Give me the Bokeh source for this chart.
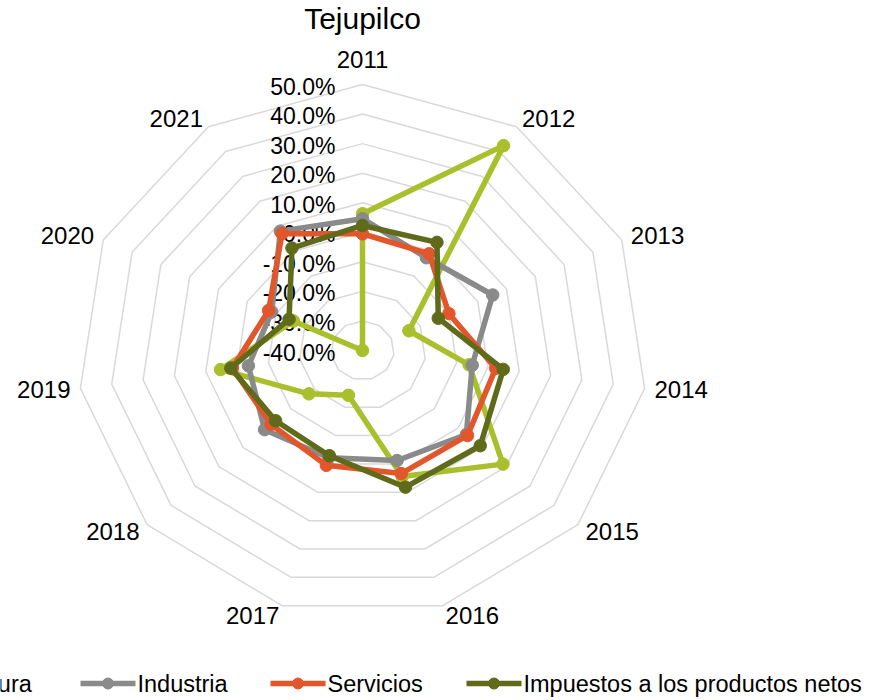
import numpy as np
from bokeh.plotting import figure
from bokeh.models import Range1d, ColumnDataSource
from bokeh.core.properties import value
from bokeh.embed import file_html
from bokeh.resources import INLINE

# ---------------- data ----------------
title = "Tejupilco"
years = ["2011", "2012", "2013", "2014", "2015", "2016", "2017", "2018", "2019", "2020", "2021"]
agricultura = [0.063, 0.424, -0.239, -0.060, 0.187, 0.044, -0.242, -0.176, 0.053, -0.160, -0.400]
industria = [0.046, -0.027, 0.052, -0.050, 0.034, -0.012, -0.022, 0.009, -0.036, -0.085, 0.080]
servicios = [-0.005, -0.011, -0.100, 0.025, 0.039, 0.034, 0.005, -0.018, 0.015, -0.074, 0.070]
impuestos = [0.023, 0.035, -0.137, 0.049, 0.092, 0.082, -0.029, -0.037, 0.020, -0.145, 0.012]
series_names = ["Agricultura", "Industria", "Servicios", "Impuestos a los productos netos"]
tick_values = [-0.4, -0.3, -0.2, -0.1, 0.0, 0.1, 0.2, 0.3, 0.4, 0.5]
tick_labels = ["-40.0%", "-30.0%", "-20.0%", "-10.0%", "0.0%", "10.0%", "20.0%", "30.0%", "40.0%", "50.0%"]

# ---------------- style / layout ----------------
colors = ["#A9BF2C", "#8A8A8A", "#E2562B", "#5F6B1B"]
FONT = "Liberation Sans"
W, H = 876, 698
CX, CY = 362.0, 350.0      # centre of the radar (page pixels)
RX, RY = 285.0, 266.0      # outer radius, horizontal / vertical
RMIN, RMAX = tick_values[0], tick_values[-1]

p = figure(width=W, height=H, output_backend="svg", toolbar_location=None,
           x_range=Range1d(0, W), y_range=Range1d(H, 0),
           min_border=0, outline_line_color=None, background_fill_color="white")
p.axis.visible = False
p.grid.visible = False

n = len(years)
ang = 2 * np.pi * np.arange(n) / n
sin_a, cos_a = np.sin(ang), np.cos(ang)


def to_xy(vals):
    r = (np.asarray(vals, dtype=float) - RMIN) / (RMAX - RMIN)
    return CX + RX * r * sin_a, CY - RY * r * cos_a


# grid rings
for tv in tick_values[1:]:
    r = (tv - RMIN) / (RMAX - RMIN)
    xs = list(CX + RX * r * sin_a) + [CX]
    ys = list(CY - RY * r * cos_a) + [CY - RY * r]
    p.line(xs, ys, line_color="#D9D9D9", line_width=1.5)

# radial tick labels
tick_y = [CY - RY * (tv - RMIN) / (RMAX - RMIN) + 2 for tv in tick_values]
p.text(x=[335] * len(tick_labels), y=tick_y, text=tick_labels, text_align="right",
       text_baseline="middle", text_font=value(FONT), text_font_size="23px", text_color="#000000")

# category labels
lab_x, lab_y, aligns, bases = [], [], [], []
for k in range(n):
    top = cos_a[k] > 0.95
    pad = 17 if top else 10
    lab_x.append(CX + (RX + pad) * sin_a[k])
    lab_y.append(CY - (RY + pad) * cos_a[k])
    aligns.append("center" if abs(sin_a[k]) < 0.1 else ("left" if sin_a[k] > 0 else "right"))
    bases.append("bottom" if top else "middle")
cat_src = ColumnDataSource(dict(x=lab_x, y=lab_y, t=years, a=aligns, b=bases))
p.text(x="x", y="y", text="t", text_align="a", text_baseline="b", source=cat_src,
       text_font=value(FONT), text_font_size="24px", text_color="#000000")

# series
all_series = [agricultura, industria, servicios, impuestos]
for vals, col in zip(all_series, colors):
    xs, ys = to_xy(vals)
    p.line(list(xs) + [xs[0]], list(ys) + [ys[0]], line_color=col, line_width=5.5,
           line_join="round")
    p.scatter(xs, ys, size=12.5, marker="circle", fill_color=col, line_color=col)

# title
p.text(x=[CX], y=[18], text=[title], text_align="center", text_baseline="middle",
       text_font=value(FONT), text_font_size="30px", text_color="#000000")

# legend (first entry is cut at the left edge, as in the reference)
leg_line_x = [-138, 80, 270, 466]
LEG_Y = 683
for lx, name, col in zip(leg_line_x, series_names, colors):
    p.line([lx, lx + 55], [LEG_Y, LEG_Y], line_color=col, line_width=5.5)
    p.scatter([lx + 27.5], [LEG_Y], size=11, marker="circle", fill_color=col, line_color=col)
    p.text(x=[lx + 57], y=[LEG_Y], text=[name], text_align="left", text_baseline="middle",
           text_font=value(FONT), text_font_size="23.5px", text_color="#000000")

open("out.html", "w").write(file_html(p, INLINE))
